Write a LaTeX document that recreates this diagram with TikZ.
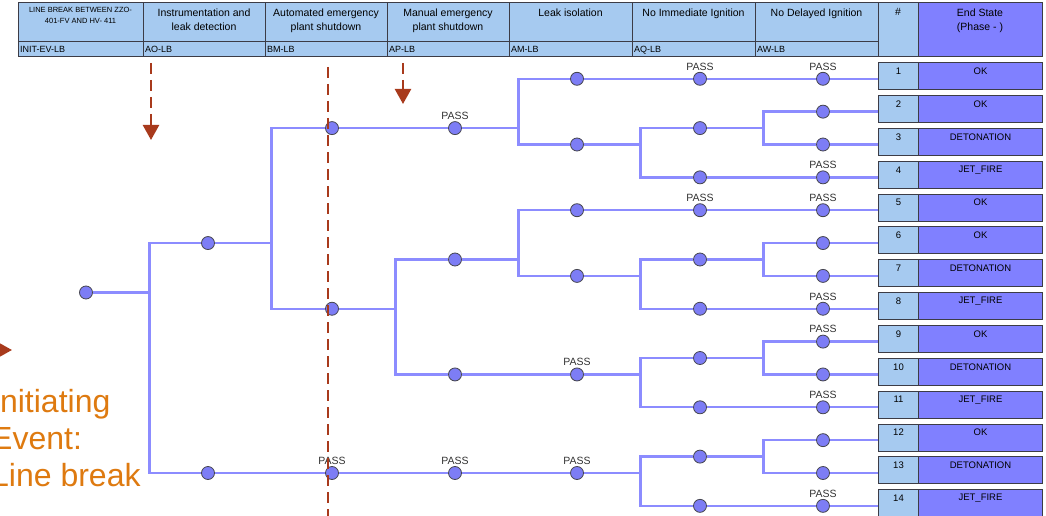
\documentclass[tikz,border=0pt]{standalone}
\usepackage{fontspec}
\setmainfont{Liberation Sans}
\usetikzlibrary{arrows.meta}
\definecolor{hdblue}{RGB}{166,202,240}
\definecolor{endblue}{RGB}{128,128,255}
\definecolor{evline}{RGB}{140,140,255}
\definecolor{evfill}{RGB}{125,125,245}
\definecolor{evedge}{RGB}{70,70,80}
\definecolor{markred}{RGB}{168,58,28}
\definecolor{ieorange}{RGB}{222,122,16}
\definecolor{gridc}{RGB}{60,60,70}
\tikzset{
  ev/.style={circle,draw=evedge,fill=evfill,line width=0.8pt,minimum size=13pt,inner sep=0pt},
  passed/.style={label={[font=\fontsize{10.5}{12}\selectfont,text=black!80,inner sep=1.5pt]above:PASS}},
  br/.style={draw=evline,line width=2.3pt},
  hdcell/.style={draw=gridc,line width=0.8pt},
  hdtitle/.style={font=\fontsize{10.5}{14}\selectfont,align=center,anchor=north,inner sep=0pt},
  hdcode/.style={font=\fontsize{9}{10}\selectfont,anchor=base west,inner sep=0pt},
  numbox/.style={draw=gridc,fill=hdblue,line width=1pt,minimum width=40pt,minimum height=27pt,inner sep=0pt,anchor=north west},
  endbox/.style={numbox,fill=endblue,minimum width=124pt},
  boxtext/.style={font=\fontsize{9.5}{11}\selectfont,inner sep=0pt},
  markdash/.style={draw=markred,line width=2.4pt,dash pattern=on 11pt off 6pt},
  markarrow/.style={markdash,-{Triangle[length=15pt,width=16pt]}},
}

\begin{document}
\begin{tikzpicture}[x=1pt,y=-1pt]
\useasboundingbox (0,0) rectangle (1046,516);

% header of the tree
\fill[hdblue] (18,2) rectangle (143,56);
\draw[hdcell] (18,2) rectangle (143,41) (18,41) rectangle (143,56);
\node[hdtitle,font=\fontsize{7.5}{11}\selectfont] (ttl0) at (80.5,7) {LINE BREAK BETWEEN ZZO-\\401-FV AND HV- 411};
\node[hdcode] (code0) at (20,52.5) {INIT-EV-LB};
\foreach \l/\r/\ttl/\code [count=\i] in {143/265/{Instrumentation and\\leak detection}/AO-LB,
  265/387/{Automated emergency\\plant shutdown}/BM-LB,
  387/509/{Manual emergency\\plant shutdown}/AP-LB,
  509/632/{Leak isolation}/AM-LB,
  632/755/{No Immediate Ignition}/AQ-LB,
  755/878/{No Delayed Ignition}/AW-LB}
{
  \fill[hdblue] (\l,2) rectangle (\r,56);
  \draw[hdcell] (\l,2) rectangle (\r,41) (\l,41) rectangle (\r,56);
  \node[hdtitle] (ttl\i) at ({(\l+\r)/2},8.5) {\ttl};
  \node[hdcode] (code\i) at (\l+2,52.5) {\code};
}
\draw[hdcell,fill=hdblue] (878,2) rectangle (918,56);
\draw[hdcell,fill=endblue] (918,2) rectangle (1042,56);
\node[hdtitle] (hash) at (898,8.5) {\#};
\node[hdtitle] (endst) at (980,8.5) {End State\\(Phase - )};

% initiating event
\node[text=ieorange,font=\fontsize{32}{37}\selectfont,align=left,anchor=base west,inner sep=0pt] (ie) at (-9,486) {Initiating\\Event:\\Line break};

% branch points
\node[ev] (init) at (86,292.5) {};
\node[ev] (aoA) at (208,243.05) {};
\node[ev] (aoB) at (208,473) {};
\node[ev] (bmA) at (332,128.1) {};
\node[ev] (bmB) at (332,308.75) {};
\node[ev,passed] (bmC) at (332,473) {};
\node[ev,passed] (apA) at (455,128.1) {};
\node[ev] (apB) at (455,259.5) {};
\node[ev] (apC) at (455,374.45) {};
\node[ev,passed] (apD) at (455,473) {};
\node[ev] (amA) at (577,78.8) {};
\node[ev] (amB) at (577,144.5) {};
\node[ev] (amC) at (577,210.2) {};
\node[ev] (amD) at (577,275.9) {};
\node[ev,passed] (amE) at (577,374.45) {};
\node[ev,passed] (amF) at (577,473) {};
\node[ev,passed] (aq1) at (700,78.8) {};
\node[ev] (aq2) at (700,128.1) {};
\node[ev] (aq3) at (700,177.35) {};
\node[ev,passed] (aq4) at (700,210.2) {};
\node[ev] (aq5) at (700,259.5) {};
\node[ev] (aq6) at (700,308.75) {};
\node[ev] (aq7) at (700,358) {};
\node[ev] (aq8) at (700,407.3) {};
\node[ev] (aq9) at (700,456.6) {};
\node[ev] (aq10) at (700,505.85) {};

% end states
\foreach \k/\s/\lab in {1/passed/OK,2//OK,3//DETONATION,4/passed/JET\_FIRE,5/passed/OK,6//OK,7//DETONATION,
  8/passed/JET\_FIRE,9/passed/OK,10//DETONATION,11/passed/JET\_FIRE,12//OK,13//DETONATION,14/passed/JET\_FIRE}
{
  \pgfmathsetmacro\yy{78.8+32.85*(\k-1)}
  \node[ev,\s] (aw\k) at (823,\yy) {};
  \node[numbox] (n\k) at (878,\yy-16.6) {};
  \node[endbox] (e\k) at (918,\yy-16.6) {};
  \node[boxtext] (nt\k) at ([yshift=-9pt]n\k.north) {\k};
  \node[boxtext] (et\k) at ([yshift=-9pt]e\k.north) {\lab};
  \draw[br] (aw\k) -- (aw\k -| n\k.west);
}

\foreach \p/\c in {init/aoA,init/aoB,aoA/bmA,aoA/bmB,aoB/bmC,bmA/apA,bmB/apB,bmB/apC,bmC/apD,
  apA/amA,apA/amB,apB/amC,apB/amD,apC/amE,apD/amF,
  amA/aq1,amB/aq2,amB/aq3,amC/aq4,amD/aq5,amD/aq6,amE/aq7,amE/aq8,amF/aq9,amF/aq10,
  aq1/aw1,aq2/aw2,aq2/aw3,aq3/aw4,aq4/aw5,aq5/aw6,aq5/aw7,aq6/aw8,
  aq7/aw9,aq7/aw10,aq8/aw11,aq9/aw12,aq9/aw13,aq10/aw14}
  \draw[br] (\p) -- ++(63.5,0) |- (\c);

% red markers
\coordinate (mk1a) at (151,63); \coordinate (mk1b) at (151,140);
\coordinate (mk2a) at (328,67); \coordinate (mk2b) at (328,520);
\coordinate (mk3a) at (403,63); \coordinate (mk3b) at (403,104);
\coordinate (mk4a) at (-40,350); \coordinate (mk4b) at (12,350);
\draw[markarrow] (mk1a) -- (mk1b);
\draw[markdash] (mk2a) -- (mk2b);
\draw[markarrow] (mk3a) -- (mk3b);
\draw[markarrow] (mk4a) -- (mk4b);
\end{tikzpicture}
\end{document}
